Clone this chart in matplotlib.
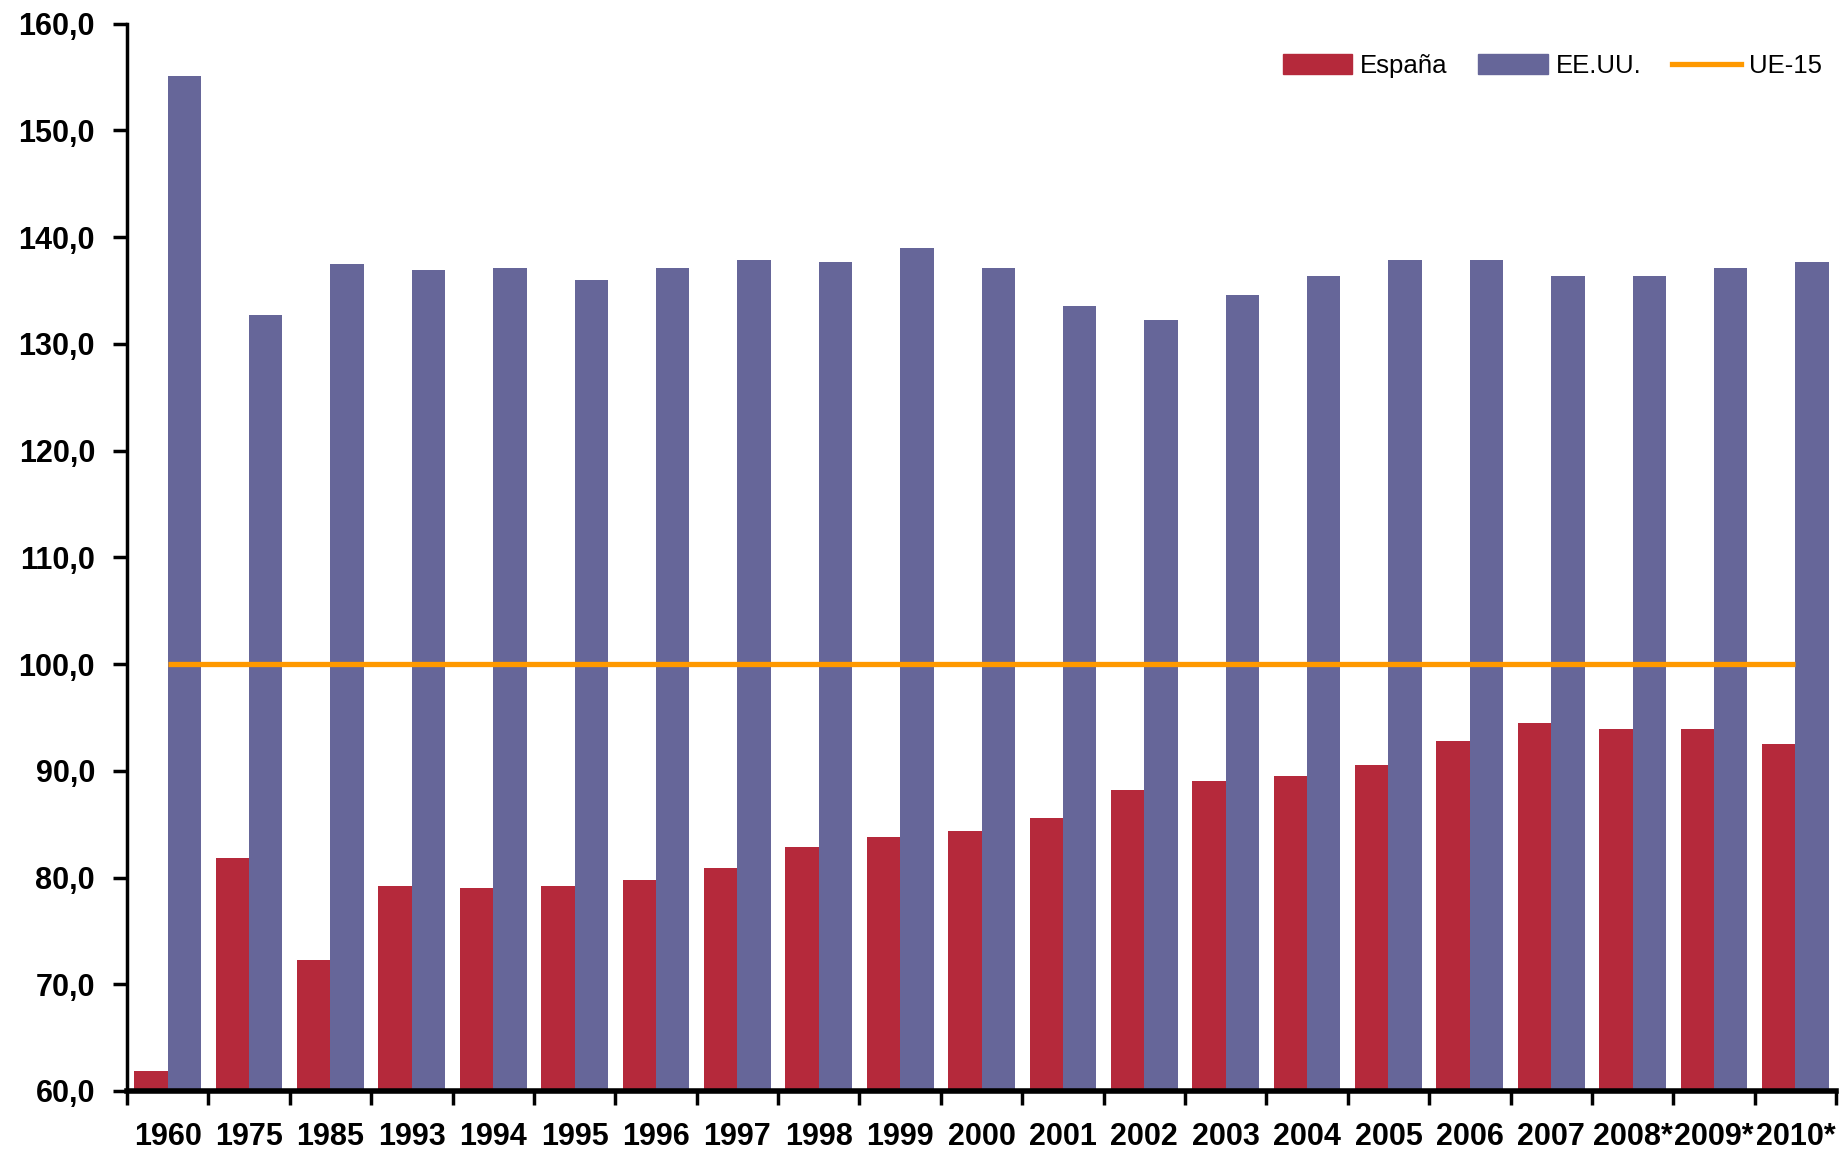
import matplotlib
matplotlib.use("Agg")
import matplotlib.pyplot as plt
import numpy as np
from matplotlib.lines import Line2D
from matplotlib.patches import Patch

years = ["1960", "1975", "1985", "1993", "1994", "1995", "1996", "1997", "1998",
         "1999", "2000", "2001", "2002", "2003", "2004", "2005", "2006", "2007",
         "2008*", "2009*", "2010*"]
espana = [61.9, 81.8, 72.3, 79.2, 79.0, 79.2, 79.8, 80.9, 82.9, 83.8, 84.4,
          85.6, 88.2, 89.0, 89.5, 90.5, 92.8, 94.5, 93.9, 93.9, 92.5]
eeuu = [155.1, 132.7, 137.5, 136.9, 137.1, 136.0, 137.1, 137.9, 137.7, 139.0,
        137.1, 133.5, 132.2, 134.6, 136.4, 137.9, 137.9, 136.4, 136.4, 137.1, 137.7]
ue15 = [100.0] * len(years)

c_es = "#B5293B"
c_us = "#666699"
c_ue = "#FF9900"

plt.rcParams['font.family'] = ['Liberation Sans', 'DejaVu Sans']

fig = plt.figure(figsize=(18.49, 11.53), dpi=100)
ax = fig.add_axes([0.0687, 0.0538, 0.993 - 0.0687, 0.9795 - 0.0538])

x = np.arange(len(years))
w = 0.41
ax.bar(x - w / 2, np.array(espana) - 60, w, bottom=60, color=c_es, linewidth=0)
ax.bar(x + w / 2, np.array(eeuu) - 60, w, bottom=60, color=c_us, linewidth=0)
ax.plot(x, ue15, color=c_ue, linewidth=3.8, solid_capstyle="butt")

ax.set_xlim(-0.5, len(years) - 0.5)
ax.set_ylim(60, 160)
ax.set_yticks(np.arange(60, 161, 10))
ax.set_yticklabels([f"{v:.1f}".replace(".", ",") for v in np.arange(60, 161, 10)],
                   fontsize=22, fontweight="bold")
ax.tick_params(axis="y", direction="out", length=10, width=2.5, pad=13)

# category boundary ticks, labels centred on each category
ax.set_xticks(np.arange(-0.5, len(years), 1.0))
ax.set_xticklabels([])
ax.set_xticks(x, minor=True)
ax.set_xticklabels(years, minor=True, fontsize=22, fontweight="bold")
ax.tick_params(axis="x", which="major", direction="out", length=10, width=2.5)
ax.tick_params(axis="x", which="minor", length=0, pad=22)

for s in ["top", "right"]:
    ax.spines[s].set_visible(False)
ax.spines["left"].set_linewidth(2.5)
ax.spines["bottom"].set_linewidth(4)

handles = [Patch(color=c_es, label="España"),
           Patch(color=c_us, label="EE.UU."),
           Line2D([], [], color=c_ue, linewidth=3.8, label="UE-15")]
fig.legend(handles=handles, loc="center right", bbox_to_anchor=(0.998, 1 - 66 / 1153),
           ncol=3, frameon=False, fontsize=18.5, handlelength=2.7, handleheight=0.8,
           handletextpad=0.3, columnspacing=1.2)

fig.savefig("out.png", dpi=100)
